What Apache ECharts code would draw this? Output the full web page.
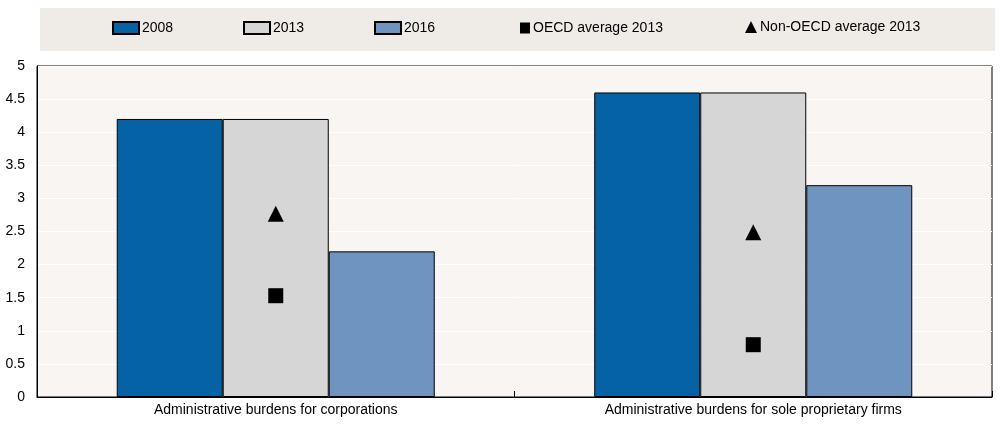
<!DOCTYPE html>
<html>
<head>
<meta charset="utf-8">
<script src="https://cdn.jsdelivr.net/npm/echarts@6/dist/echarts.min.js"></script>
<style>
html,body{margin:0;padding:0;background:#fff;}
#chart{width:1000px;height:424px;}
</style>
</head>
<body>
<div id="chart"></div>
<script>
var categories = ['Administrative burdens for corporations', 'Administrative burdens for sole proprietary firms'];
var seriesNames = ['2008', '2013', '2016', 'OECD average 2013', 'Non-OECD average 2013'];
var v2008 = [4.2, 4.6];
var v2013 = [4.2, 4.6];
var v2016 = [2.2, 3.2];
var oecdAvg2013 = [1.53, 0.79];
var nonOecdAvg2013 = [2.77, 2.49];
var yTicks = [0, 0.5, 1, 1.5, 2, 2.5, 3, 3.5, 4, 4.5, 5];

var FONT = "'Liberation Sans Narrow', 'Arial Narrow', 'Liberation Sans', Arial, sans-serif";
var chart = echarts.init(document.getElementById('chart'), null, {renderer: 'canvas'});

function leg(name, left, icon, w, h, top) {
  return {
    data: [{name: name, icon: icon}],
    left: left, top: top,
    itemWidth: w, itemHeight: h, itemGap: 0,
    padding: 0,
    selectedMode: false,
    textStyle: {fontFamily: FONT, fontSize: 14, color: '#000', padding: [0, 0, 0, -2]}
  };
}

var option = {
  backgroundColor: '#fff',
  animation: false,
  graphic: [{
    type: 'rect', left: 40, top: 8, z: -10,
    shape: {width: 955, height: 43},
    style: {fill: '#efece7'}
  }],
  legend: [
    leg(seriesNames[0], 112, 'rect', 26, 12, 21),
    leg(seriesNames[1], 243, 'rect', 26, 12, 21),
    leg(seriesNames[2], 374, 'rect', 26, 12, 21),
    leg(seriesNames[3], 520, 'rect', 10, 11, 21),
    leg(seriesNames[4], 745, 'triangle', 12, 12, 20)
  ],
  grid: {
    left: 37, right: 8, top: 66, bottom: 27,
    show: true, backgroundColor: '#f8f5f2', borderColor: '#000', borderWidth: 1
  },
  xAxis: {
    type: 'category',
    data: categories,
    axisLine: {lineStyle: {color: '#000', width: 1}},
    axisTick: {show: true, inside: true, length: 6, lineStyle: {color: '#000'}},
    axisLabel: {fontFamily: FONT, fontSize: 14, color: '#000', margin: 6},
    splitLine: {show: false}
  },
  yAxis: {
    type: 'value',
    min: 0, max: 5, interval: 0.5,
    axisLine: {show: true, lineStyle: {color: '#000'}},
    axisTick: {show: false},
    axisLabel: {fontFamily: FONT, fontSize: 14, color: '#000', margin: 12,
      formatter: function (v) { return yTicks.indexOf(v) >= 0 ? String(v) : ''; }},
    splitLine: {show: true, lineStyle: {color: '#ffffff', width: 1}}
  },
  series: [
    {name: seriesNames[0], type: 'bar', data: v2008, barGap: '0%', barCategoryGap: '33.4%',
      itemStyle: {color: '#0563a5', borderColor: '#000', borderWidth: 1}},
    {name: seriesNames[1], type: 'bar', data: v2013, barGap: '0%', barCategoryGap: '33.4%',
      itemStyle: {color: '#d7d6d7', borderColor: '#000', borderWidth: 1}},
    {name: seriesNames[2], type: 'bar', data: v2016, barGap: '0%', barCategoryGap: '33.4%',
      itemStyle: {color: '#6e94bf', borderColor: '#000', borderWidth: 1}},
    {name: seriesNames[3], type: 'scatter', data: oecdAvg2013, symbol: 'rect', symbolSize: 15, z: 5,
      itemStyle: {color: '#000', opacity: 1}},
    {name: seriesNames[4], type: 'scatter', data: nonOecdAvg2013, symbol: 'triangle', symbolSize: [16, 16], z: 5,
      itemStyle: {color: '#000', opacity: 1}}
  ]
};
chart.setOption(option);
</script>
</body>
</html>
